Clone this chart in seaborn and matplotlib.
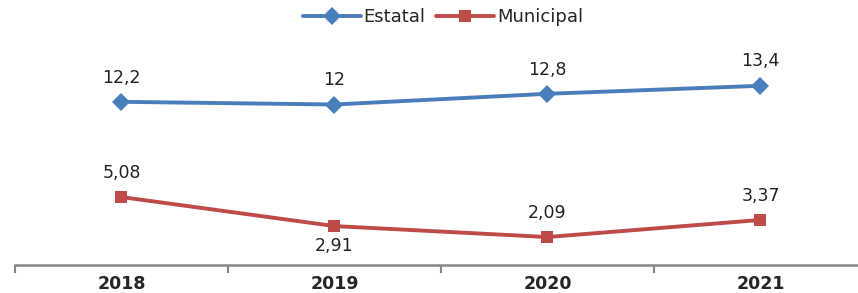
import matplotlib
matplotlib.use("Agg")
import matplotlib.pyplot as plt
import seaborn as sns
import pandas as pd

years = ["2018", "2019", "2020", "2021"]
estatal = [12.2, 12.0, 12.8, 13.4]
municipal = [5.08, 2.91, 2.09, 3.37]
series = ["Estatal", "Municipal"]

sns.set_theme(style="white")
plt.rcParams["font.family"] = ["DejaVu Sans"]

df = pd.DataFrame({
    "Ano": years * 2,
    "x": list(range(len(years))) * 2,
    "valor": estatal + municipal,
    "serie": ["Estatal"] * len(years) + ["Municipal"] * len(years),
})

palette = {"Estatal": "#4a7ebb", "Municipal": "#be4b48"}
markers = {"Estatal": "D", "Municipal": "s"}

fig = plt.figure(figsize=(8.58, 2.93), dpi=100)
ax = fig.add_axes([15 / 858, 28 / 293, 852 / 858, 214 / 293])

sns.lineplot(data=df, x="x", y="valor", hue="serie", style="serie",
             hue_order=series, palette=palette, markers=markers, dashes=False,
             linewidth=2.8, markersize=9, markeredgewidth=0, ax=ax)

ax.set_xlim(-0.5, 3.5)
ax.set_ylim(0, 16)
ax.set_xlabel("")
ax.set_ylabel("")
ax.set_yticks([])
ax.set_xticks([-0.5, 0.5, 1.5, 2.5, 3.5])
ax.set_xticklabels([])
ax.set_xticks(range(len(years)), minor=True)
ax.set_xticklabels(years, minor=True, fontweight="bold", fontsize=12.5)
ax.tick_params(axis="x", which="major", length=6, width=1.5, color="#868686",
               direction="out", bottom=True)
ax.tick_params(axis="x", which="minor", length=0, pad=7)
for s in ["top", "right", "left"]:
    ax.spines[s].set_visible(False)
ax.spines["bottom"].set_color("#868686")
ax.spines["bottom"].set_linewidth(1.8)

def fmt(v):
    s = f"{v:g}"
    return s.replace(".", ",")

for i, v in enumerate(estatal):
    ax.annotate(fmt(v), (i, v), xytext=(0, 11), textcoords="offset points",
                ha="center", va="bottom", fontsize=12.5, color="#222222")
offs = [11, -8, 11, 11]
for i, v in enumerate(municipal):
    ax.annotate(fmt(v), (i, v), xytext=(0, offs[i]), textcoords="offset points",
                ha="center", va="bottom" if offs[i] > 0 else "top",
                fontsize=12.5, color="#222222")

handles, labels = ax.get_legend_handles_labels()
ax.legend(handles, labels, loc="center", bbox_to_anchor=(443 / 858, 1 - 17 / 293),
          bbox_transform=fig.transFigure, ncol=2, frameon=False, fontsize=13,
          handlelength=3.2, handletextpad=0.15, columnspacing=0.6)

fig.savefig("out.png", dpi=100)
